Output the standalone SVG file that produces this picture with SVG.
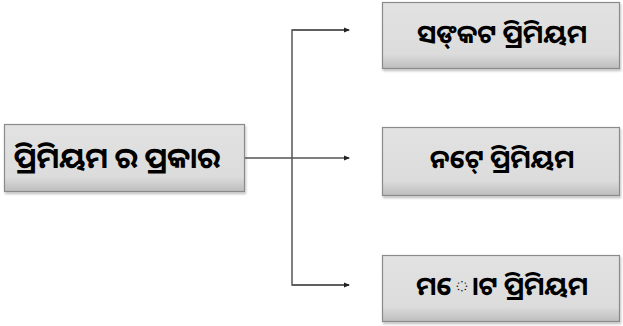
<svg xmlns="http://www.w3.org/2000/svg" width="623" height="326" viewBox="0 0 623 326">
<defs>
<linearGradient id="g" x1="0" y1="0" x2="0" y2="1">
<stop offset="0" stop-color="#e2e2e2"/>
<stop offset="0.78" stop-color="#dcdcdc"/>
<stop offset="1" stop-color="#bdbdbd"/>
</linearGradient>
<filter id="sh" x="-5%" y="-10%" width="115%" height="130%">
<feDropShadow dx="1" dy="2" stdDeviation="1.2" flood-color="#000" flood-opacity="0.25"/>
</filter>
<marker id="ah" viewBox="0 0 6 6" refX="5" refY="3" markerWidth="6" markerHeight="6" markerUnits="userSpaceOnUse" orient="auto">
<path d="M0,0.5 L6,3 L0,5.5 Z" fill="#222"/>
</marker>
</defs>
<style>
.box{fill:url(#g);stroke:#8a8a8a;stroke-width:1.2;filter:url(#sh)}
.t{font-family:"Noto Sans Oriya","Lohit Odia","Noto Sans",sans-serif;fill:#000;font-weight:bold;text-anchor:middle}
.c{fill:none;stroke:#555;stroke-width:1.5}
</style>
<rect width="623" height="326" fill="#fff"/>
<g id="connectors">
<line class="c" x1="245" y1="158" x2="349" y2="158" marker-end="url(#ah)"/>
<polyline class="c" points="349,30 292,30 292,285 349,285"/>
<line class="c" x1="292" y1="30" x2="349" y2="30" marker-end="url(#ah)"/>
<line class="c" x1="292" y1="285" x2="349" y2="285" marker-end="url(#ah)"/>
</g>
<g id="node-types">
<rect class="box" x="4.5" y="124.5" width="240" height="67"/>
<text class="t" x="117" y="168" font-size="29">ପ୍ରିମିୟମ ର ପ୍ରକାର</text>
</g>
<g id="node-sankat">
<rect class="box" x="382.5" y="2.5" width="237" height="66"/>
<text class="t" x="502" y="43" font-size="26">ସଙ୍‌କଟ ପ୍ରିମିୟମ</text>
</g>
<g id="node-net">
<rect class="box" x="382.5" y="127.5" width="237" height="68"/>
<text class="t" x="502" y="168" font-size="26">ନଟେ୍ ପ୍ରିମିୟମ</text>
</g>
<g id="node-gross">
<rect class="box" x="382.5" y="255.5" width="237" height="66"/>
<text class="t" x="502" y="295" font-size="26">ମ◌ୋଟ ପ୍ରିମିୟମ</text>
</g>
</svg>
